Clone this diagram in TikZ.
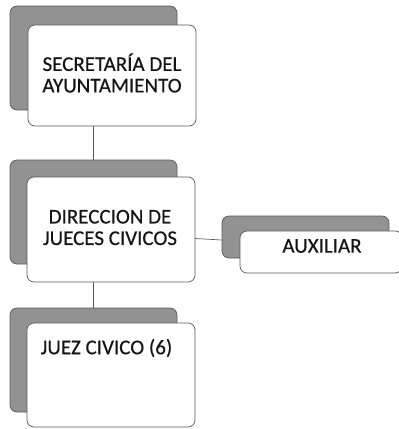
\documentclass[tikz,border=0pt]{standalone}
\usepackage{fontspec}
\setmainfont{Carlito}
\newfontfamily\boxfont{Carlito}[FakeBold=0.35]
\definecolor{shade}{HTML}{929292}
\definecolor{edge}{HTML}{5A5A5A}
\definecolor{ink}{HTML}{141414}
\tikzset{
  back/.style={draw=edge, line width=0.7pt, fill=shade, rounded corners=7pt, inner sep=0pt},
  front/.style={draw=edge, line width=0.7pt, fill=white, rounded corners=7pt, inner sep=0pt},
  lbl/.style={font=\boxfont\fontsize{21}{21.5}\selectfont, text=ink, align=center, inner sep=0pt},
  link/.style={draw=edge, line width=0.7pt}
}
\begin{document}
\begin{tikzpicture}[x=1pt,y=-1pt]
\useasboundingbox (0,0) rectangle (399,429);
% box 1
\node[back, minimum width=167pt, minimum height=104pt] (s1) at (93.5,58) {};
\node[front, minimum width=168pt, minimum height=101pt] (f1) at (112,75.5) {};
\node[lbl] (t1) at (112,73) {SECRETARÍA DEL\\AYUNTAMIENTO};
% box 2
\node[back, minimum width=167pt, minimum height=104pt] (s2) at (93.5,212) {};
\node[front, minimum width=168pt, minimum height=105pt] (f2) at (111,229.5) {};
\node[lbl] (t2) at (110,227.5) {DIRECCION DE\\JUECES CIVICOS};
% auxiliar
\node[back, minimum width=167pt, minimum height=42pt] (s4) at (305.5,237) {};
\node[front, minimum width=162pt, minimum height=42pt] (f4) at (321,252) {};
\node[lbl] (t4) at (322,246) {AUXILIAR};
% box 3
\node[back, minimum width=167pt, minimum height=104pt] (s3) at (93.5,360) {};
\node[front, minimum width=168pt, minimum height=104pt] (f3) at (111,375) {};
\node[lbl] (t3) at (106.5,348) {JUEZ CIVICO (6)};
% connectors
\draw[link] (f1.south -| s2.north) -- (s2.north);
\draw[link] (f2.south -| s3.north) -- (s3.north);
\draw[link] ([yshift=-9pt]f2.east) -- ([yshift=-3pt]s4.west);
\end{tikzpicture}
\end{document}
